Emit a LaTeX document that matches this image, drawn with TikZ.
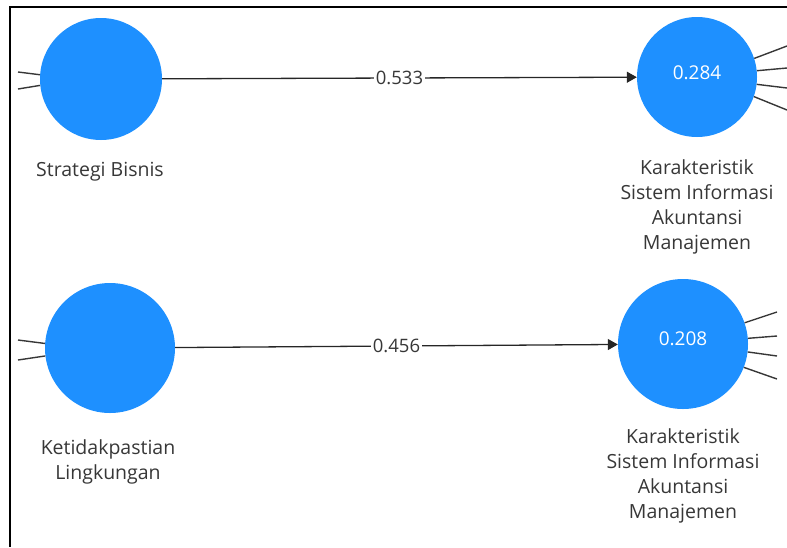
\documentclass[tikz,border=0pt]{standalone}
\usepackage{fontspec}
\setmainfont{Open Sans}
\usepackage{xcolor}
\usetikzlibrary{arrows.meta, positioning}

\definecolor{lvblue}{RGB}{30,144,255}
\definecolor{inkgray}{RGB}{55,55,55}

\begin{document}
\begin{tikzpicture}[x=1pt, y=-1pt,
    latent/.style={circle, fill=lvblue, inner sep=0pt},
    rsq/.style={text=white, inner sep=0pt, font=\fontsize{19}{22}\selectfont},
    lvname/.style={align=center, text=inkgray, font=\fontsize{19.5}{25}\selectfont},
    pathline/.style={line width=1.3pt, black!85, -{Triangle[length=10pt, width=11pt]}},
    coef/.style={fill=white, inner sep=1.5pt, text=inkgray, font=\fontsize{18.5}{22}\selectfont},
    stub/.style={line width=1.4pt, inkgray}]

    % =================================================================
    % 1. KHUNG VÀ VÙNG HÌNH
    % =================================================================
    \useasboundingbox (0,0) rectangle (787,547);
    \draw[line width=1.8pt] (787,7) -- (10,7) -- (10,547);

    % =================================================================
    % 2. CÁC BIẾN TIỀM ẨN (HÌNH TRÒN)
    % =================================================================
    \node[latent, minimum size=122pt] (sb) at (101,79) {};
    \node[latent, minimum size=120pt] (ksiaA) at (697,77) {};
    \node[latent, minimum size=130pt] (kl) at (110,348) {};
    \node[latent, minimum size=130pt] (ksiaB) at (683,344) {};

    % Giá trị R bình phương
    \node[rsq] (rsqA) at (697,73) {0.284};
    \node[rsq] (rsqB) at (683,339) {0.208};

    % =================================================================
    % 3. ĐƯỜNG DẪN VÀ HỆ SỐ
    % =================================================================
    \draw[pathline] (sb) -- node[coef] (coefA) {0.533} (ksiaA);
    \draw[pathline] (kl) -- node[coef] (coefB) {0.456} (ksiaB);

    % =================================================================
    % 4. CÁC ĐOẠN CHỈ BÁO (BỊ CẮT Ở MÉP)
    % =================================================================
    % Bên trái
    \coordinate (sbI1) at (18,72);
    \coordinate (sbI2) at (18,89);
    \coordinate (klI1) at (18,340);
    \coordinate (klI2) at (18,360);
    \draw[stub] (sb.176) -- (sbI1);
    \draw[stub] (sb.186) -- (sbI2);
    \draw[stub] (kl.176) -- (klI1);
    \draw[stub] (kl.187) -- (klI2);

    % Bên phải
    \coordinate (ksiaAI1) at (787,46);
    \coordinate (ksiaAI2) at (787,68);
    \coordinate (ksiaAI3) at (787,88);
    \coordinate (ksiaAI4) at (787,110);
    \draw[stub] (ksiaA.18) -- (ksiaAI1);
    \draw[stub] (ksiaA.6) -- (ksiaAI2);
    \draw[stub] (ksiaA.-7) -- (ksiaAI3);
    \draw[stub] (ksiaA.-19) -- (ksiaAI4);

    \coordinate (ksiaBI1) at (777,312);
    \coordinate (ksiaBI2) at (777,336);
    \coordinate (ksiaBI3) at (777,356);
    \coordinate (ksiaBI4) at (777,379);
    \draw[stub] (ksiaB.19) -- (ksiaBI1);
    \draw[stub] (ksiaB.5) -- (ksiaBI2);
    \draw[stub] (ksiaB.-7) -- (ksiaBI3);
    \draw[stub] (ksiaB.-21) -- (ksiaBI4);

    % =================================================================
    % 5. TÊN CÁC BIẾN
    % =================================================================
    \node[lvname] (sbname) at (100,172) {Strategi Bisnis};
    \node[lvname] (ksiaAname) at (697,207) {Karakteristik\\Sistem Informasi\\Akuntansi\\Manajemen};
    \node[lvname] (klname) at (108,462) {Ketidakpastian\\Lingkungan};
    \node[lvname] (ksiaBname) at (683,476) {Karakteristik\\Sistem Informasi\\Akuntansi\\Manajemen};

\end{tikzpicture}
\end{document}
